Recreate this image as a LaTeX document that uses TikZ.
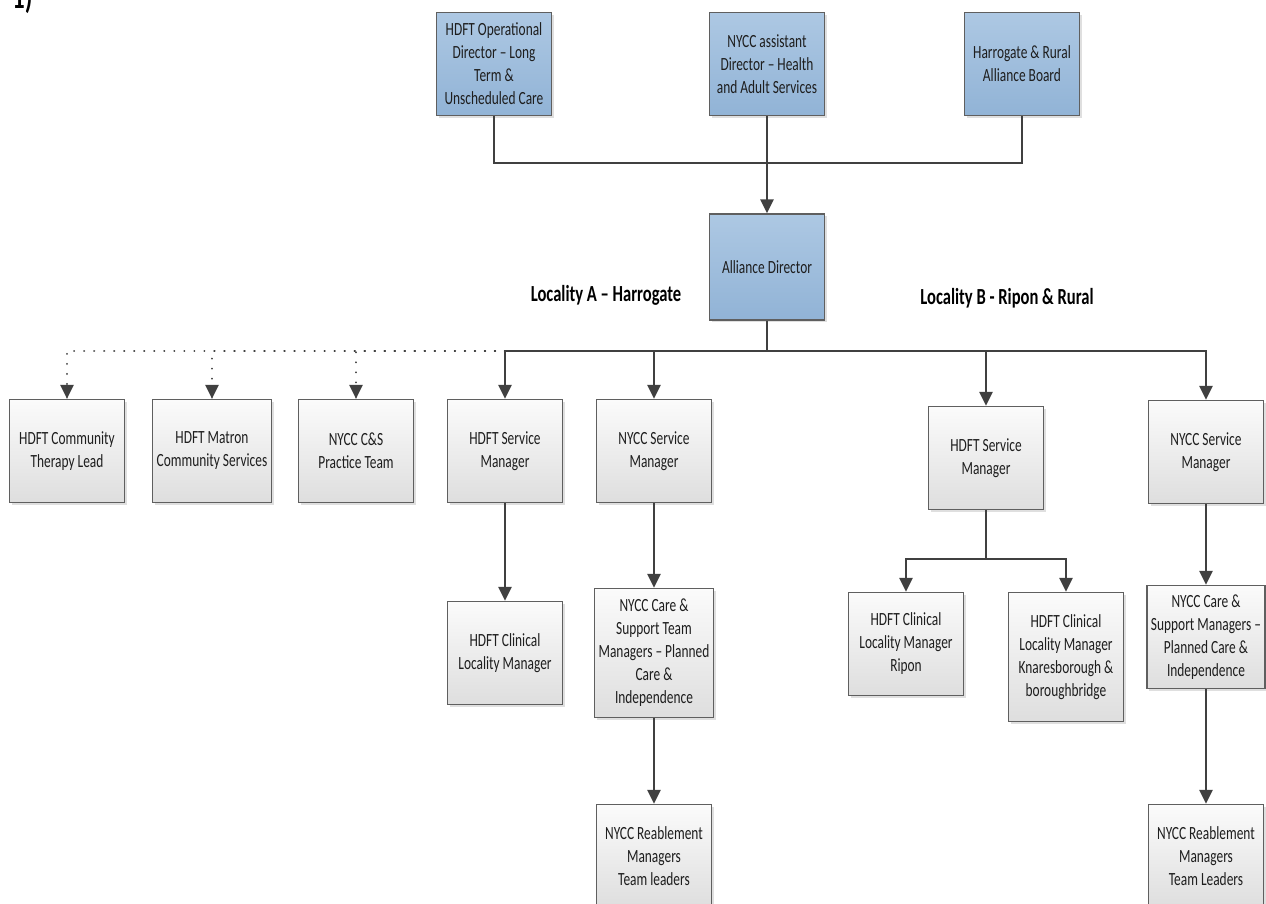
\documentclass[tikz,border=0pt]{standalone}
\usepackage{fontspec}
\setmainfont[FakeStretch=0.72]{Carlito}
\usetikzlibrary{arrows.meta,shadows}

\definecolor{boxline}{RGB}{95,95,95}
\definecolor{linkc}{RGB}{64,64,64}
\definecolor{txt}{RGB}{30,30,30}
\definecolor{bluetop}{RGB}{173,200,227}
\definecolor{bluebot}{RGB}{145,179,214}
\definecolor{greytop}{RGB}{251,251,251}
\definecolor{greybot}{RGB}{222,222,222}

\tikzset{
  box/.style={draw=boxline, line width=0.6pt, minimum width=57.5pt,
    minimum height=51.5pt, inner sep=2pt, align=center, text=txt,
    font=\fontsize{9.3}{11.5}\selectfont,
    drop shadow={shadow xshift=1.2pt, shadow yshift=-1.2pt, opacity=0.25, fill=gray}},
  bluebox/.style={box, top color=bluetop, bottom color=bluebot},
  greybox/.style={box, top color=greytop, bottom color=greybot},
  tallbox/.style={greybox, minimum height=64.5pt},
  link/.style={draw=linkc, line width=1.3pt},
  arr/.style={link, -{Triangle[length=7pt,width=6.5pt]}},
  dotarr/.style={arr, line width=1.1pt, dash pattern=on 0.01pt off 5pt, line cap=round},
  locality/.style={font=\fontsize{11.5}{13}\selectfont\bfseries, text=black, inner sep=0pt}
}

\begin{document}
\begin{tikzpicture}[x=0.5pt,y=-0.5pt]
\useasboundingbox (0,0) rectangle (1266,904);

\node[font=\fontsize{17}{20}\selectfont\bfseries, anchor=base west, inner sep=0pt] (num) at (12,9) {1)};

% directors
\node[bluebox] (opdir) at (494,64) {HDFT Operational\\Director -- Long\\Term \&\\Unscheduled Care};
\node[bluebox] (asstdir) at (767,64) {NYCC assistant\\Director -- Health\\and Adult Services};
\node[bluebox] (board) at (1022,64) {Harrogate \& Rural\\Alliance Board};
\node[bluebox, minimum height=53pt] (alliance) at (767,267) {Alliance Director};

\node[locality, anchor=base] (locA) at (606,302) {Locality A -- Harrogate};
\node[locality, anchor=base] (locB) at (1007,305) {Locality B - Ripon \& Rural};

% locality A
\node[greybox] (therapy) at (67,451) {HDFT Community\\Therapy Lead};
\node[greybox] (matron) at (212,451) {HDFT Matron\\Community Services};
\node[greybox] (practice) at (356,451) {NYCC C\&S\\Practice Team};
\node[greybox] (hsmA) at (505,451) {HDFT Service\\Manager};
\node[greybox] (nsmA) at (654,451) {NYCC Service\\Manager};
\node[greybox] (clinA) at (505,653) {HDFT Clinical\\Locality Manager};
\node[tallbox] (careA) at (654,653) {NYCC Care \&\\Support Team\\Managers -- Planned\\Care \&\\Independence};
\node[greybox] (reabA) at (654,856) {NYCC Reablement\\Managers\\Team leaders};

% locality B
\node[greybox] (hsmB) at (986,458) {HDFT Service\\Manager};
\node[greybox] (nsmB) at (1206,452) {NYCC Service\\Manager};
\node[greybox] (ripon) at (906,644) {HDFT Clinical\\Locality Manager\\Ripon};
\node[tallbox] (knares) at (1066,657) {HDFT Clinical\\Locality Manager\\Knaresborough \&\\boroughbridge};
\node[greybox] (careB) at (1206,637) {NYCC Care \&\\Support Managers --\\Planned Care \&\\Independence};
\node[greybox] (reabB) at (1206,856) {NYCC Reablement\\Managers\\Team Leaders};

\coordinate (topbus) at (767,163);
\coordinate (bus) at (767,351);
\coordinate (splitB) at (986,559);

% connectors
\draw[link] (opdir.south) |- (topbus) -| (board.south);
\draw[arr] (asstdir.south) -- (alliance.north);
\draw[link] (alliance.south) -- (bus);
\foreach \n in {hsmA,nsmA,hsmB,nsmB}
  \draw[arr] (bus) -| (\n.north);
\foreach \n in {therapy,matron,practice}
  \draw[dotarr] (hsmA.north |- bus) -| (\n.north);
\draw[arr] (hsmA) -- (clinA);
\draw[arr] (nsmA) -- (careA);
\draw[arr] (careA) -- (reabA);
\draw[arr] (hsmB.south) -- (splitB) -| (ripon.north);
\draw[arr] (splitB) -| (knares.north);
\draw[arr] (nsmB) -- (careB);
\draw[arr] (careB) -- (reabB);
\end{tikzpicture}
\end{document}
